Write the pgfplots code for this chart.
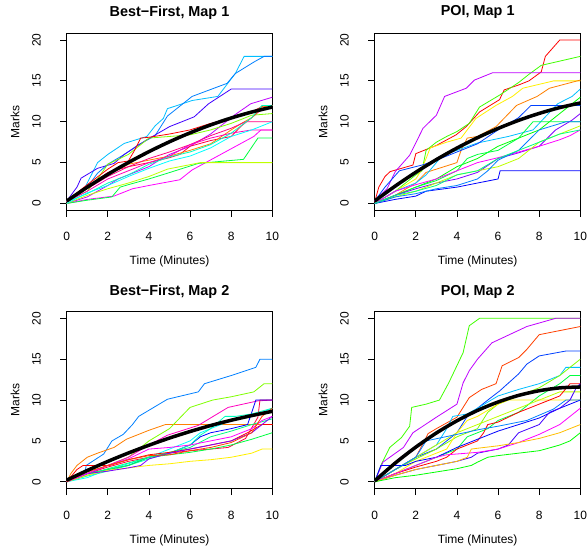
\documentclass[border=0pt]{standalone}
\usepackage{fontspec}
\setmainfont{Liberation Sans}
\usepackage{pgfplots}
\pgfplotsset{compat=1.18}
\definecolor{c0}{HTML}{FF0000}
\definecolor{c1}{HTML}{FF4000}
\definecolor{c2}{HTML}{FF8000}
\definecolor{c3}{HTML}{FFBF00}
\definecolor{c4}{HTML}{FFF000}
\definecolor{c5}{HTML}{BFFF00}
\definecolor{c6}{HTML}{80FF00}
\definecolor{c7}{HTML}{40FF00}
\definecolor{c8}{HTML}{00FF00}
\definecolor{c9}{HTML}{00FF40}
\definecolor{c10}{HTML}{00FF80}
\definecolor{c11}{HTML}{00FFBF}
\definecolor{c12}{HTML}{00FFFF}
\definecolor{c13}{HTML}{00BFFF}
\definecolor{c14}{HTML}{0080FF}
\definecolor{c15}{HTML}{0040FF}
\definecolor{c16}{HTML}{0000FF}
\definecolor{c17}{HTML}{4000FF}
\definecolor{c18}{HTML}{8000FF}
\definecolor{c19}{HTML}{BF00FF}
\definecolor{c20}{HTML}{FF00FF}
\definecolor{c21}{HTML}{FF00BF}
\definecolor{c22}{HTML}{FF0080}
\definecolor{c23}{HTML}{FF0040}
\pgfplotsset{
  panel/.style={scale only axis, width=205.6pt, height=176.5pt,
    xmin=0, xmax=10, ymin=-0.8, ymax=20.8,
    xtick={0,2,4,6,8,10}, ytick={0,5,10,15,20},
    tick align=outside, xtick pos=bottom, ytick pos=left,
    major tick length=6.7pt,
    every tick/.style={black, line width=0.8pt},
    axis line style={line width=0.9pt},
    tick label style={font=\fontsize{12}{14}\selectfont},
    /pgf/number format/assume math mode=true,
    xticklabel style={anchor=center, yshift=-20pt},
    yticklabel style={xshift=-23.4pt, rotate=90, anchor=center},
    anchor=south west, clip=true},
  ln/.style={line width=0.8pt, mark=none},
  fit/.style={line width=3.5pt, black, smooth, mark=none},
}
\begin{document}
\begin{tikzpicture}[x=1pt,y=1pt]
\clip (0,0) rectangle (587,550);
\fill[white] (0,0) rectangle (587,550);
% ---------------- Best-First, Map 1
\begin{axis}[panel, at={(66.7pt,340pt)}]
\addplot[ln,c13] coordinates {(0,0.2)(0.8,1.5)(1.5,5)(2,6)(2.8,7.35)(3.9,8.2)(4.3,9.5)(4.7,10.4)(4.9,11.6)(6.1,12.6)(7.35,13.1)(8.2,15.9)(8.63,18)(10,18)};
\addplot[ln,c14] coordinates {(0,0.3)(1,2)(1.5,3.7)(2,4.8)(2.8,6)(3.5,7.2)(4.3,8.3)(4.9,10.7)(6.1,13.1)(7.8,14.7)(8.2,15.9)(9.1,17.3)(9.6,18)(10,18)};
\addplot[ln,c17] coordinates {(0,0.3)(0.5,2)(0.7,3.1)(1.5,4.3)(2.3,4.9)(2.8,6)(3.9,7.8)(5,9.4)(6.2,10.6)(6.9,12.2)(8,14)(10,14)};
\addplot[ln,c19] coordinates {(0,0)(1,0.8)(2,2.2)(2.5,3)(3,3.5)(4,4.5)(4.5,5.3)(5,6)(6,7)(7,8.5)(8.15,10.8)(8.95,12.2)(10,13)};
\addplot[ln,c6] coordinates {(0,0.3)(1,1.5)(1.5,3)(2,4.8)(3,6)(4,8)(5,8.2)(6,8.4)(7,9)(8,9.8)(9,10.8)(10,11)};
\addplot[ln,c0] coordinates {(0,0.3)(1,2.3)(2,4.2)(2.5,5)(3,5.2)(3.3,6.5)(3.6,8)(4,8.1)(5,8.5)(6,9)(7,9.8)(8,10.4)(9,11.2)(9.6,12)(10,12)};
\addplot[ln,c23] coordinates {(0,0.2)(1,2)(2,3.8)(3,4.5)(4,5)(5,5.6)(5.5,6)(6,7)(7,7.7)(8,8.2)(8.5,9.5)(9,10.5)(9.7,12)(10,12)};
\addplot[ln,c2] coordinates {(0,0.2)(1,2)(2,3.5)(3,4.8)(4,5.3)(5,5.8)(6,6.5)(7,7.3)(8,9)(8.5,9.8)(9,10.5)(9.5,11.8)(10,12)};
\addplot[ln,c22] coordinates {(0,0.2)(1,1.8)(2,3.3)(3,4.5)(4,5.5)(5,6.3)(6,7.2)(7,8.3)(8,9.2)(8.7,10)(10,10)};
\addplot[ln,c20] coordinates {(0,0)(1,0.5)(2.3,0.9)(3.2,1.8)(4,2.2)(5.5,2.9)(6.1,4.1)(8.15,6.9)(9.1,8.2)(9.45,9)(10,9)};
\addplot[ln,c21] coordinates {(0,0.2)(1,1.5)(2,3)(3,4)(4,5)(5,5.8)(6,7.2)(7,8)(8,8.6)(9,9)(10,9)};
\addplot[ln,c9] coordinates {(0,0)(1,0.4)(2.2,0.8)(2.6,2)(3,2.3)(4,3)(4.9,3.7)(6.4,4.9)(8.6,5.4)(9.3,8)(10,8)};
\addplot[ln,c5] coordinates {(0,0)(1,1)(2,1.8)(3,2.5)(4,3.3)(4.9,4.2)(6.5,5)(10,5)};
\addplot[ln,c11] coordinates {(0,0.2)(1,1.2)(2,2.5)(3,3.5)(4,4.8)(5,5.7)(6,6.3)(7,7.2)(8,8.6)(9,10.5)(9.5,12)(10,12)};
\addplot[ln,c12] coordinates {(0,0)(1,1.3)(2,2.2)(3,3.3)(4,4.3)(5,5.2)(6,5.8)(7,6.8)(8,8.2)(9,9)(10,10)};
\addplot[fit] coordinates {(0,0.30)(1,1.99)(2,3.56)(3,5.01)(4,6.34)(5,7.55)(6,8.64)(7,9.61)(8,10.46)(9,11.19)(10,11.80)};
\end{axis}
% ---------------- POI, Map 1
\begin{axis}[panel, at={(374.7pt,340pt)}]
\addplot[ln,c0] coordinates {(0,0.2)(0.2,2)(0.5,3.3)(0.75,3.9)(1.86,4.7)(2,6.1)(2.5,6.6)(3,7.1)(3.96,8.4)(4.45,9.4)(5.1,11.2)(6.07,12.7)(6.3,13.9)(7,14.5)(7.5,15)(8.1,16.1)(8.3,18)(9,20)(10,20)};
\addplot[ln,c7] coordinates {(0,0)(1,1.5)(2,3.5)(2.3,4)(2.5,6.5)(3,7.5)(3.5,8.2)(4,8.8)(4.6,9.8)(5.1,11.8)(6.1,13.3)(7,14.8)(7.5,15.8)(8.1,16.9)(10,18)};
\addplot[ln,c19] coordinates {(0,0.3)(0.6,1.8)(1.0,3.9)(1.7,5.9)(2.35,9.2)(3,10.8)(3.4,13.1)(4.45,14.1)(4.85,15.1)(5.74,16)(10,16)};
\addplot[ln,c4] coordinates {(0,0)(1,1.5)(2,3)(2.2,3.8)(2.5,5.5)(2.7,6.8)(3.5,7.5)(4.2,8)(4.92,10.4)(5.9,12)(6.7,13.1)(7.2,14.1)(8.7,15)(10,15)};
\addplot[ln,c2] coordinates {(0,0)(1,1)(2,2.5)(2.5,3.8)(3,4.2)(4,5)(4.2,6.5)(4.5,8)(5,8.2)(5.9,9.4)(6.9,12)(7.9,13.1)(8.5,14.1)(10,15.1)};
\addplot[ln,c13] coordinates {(0,0)(1,1.5)(2,2.5)(2.5,3.5)(3.3,5.9)(4,6.5)(5,7.4)(6.5,8.2)(7.7,9)(8.9,12.2)(9.6,13.1)(10,14)};
\addplot[ln,c15] coordinates {(0,0.3)(0.5,2)(1.2,4)(2.3,4.7)(3,5.3)(4,6.3)(5,7.3)(6,9)(7,10.5)(7.6,12)(10,12)};
\addplot[ln,c8] coordinates {(0,0)(1,1)(2,2)(3,3)(4,4.5)(5,5.5)(6,7)(7,8)(8,9)(9,11)(9.5,12)(10,13)};
\addplot[ln,c9] coordinates {(0,0)(1,1)(2,2)(3,2.8)(4,4)(4.5,5.5)(5,6)(6,6.5)(7,8)(7.7,10)(10,10)};
\addplot[ln,c18] coordinates {(0,0)(1,1)(2,1.8)(3,2.5)(4,3)(5,3.8)(6,5.5)(7,6.2)(8,7)(8.8,9)(9.6,10.2)(10,11)};
\addplot[ln,c20] coordinates {(0,0)(1,1.5)(2,2.3)(3,3)(4,4)(5,5)(6,5.6)(7,6.3)(8,7)(9,7.8)(9.5,8.3)(10,9)};
\addplot[ln,c5] coordinates {(0,0)(1,0.8)(2,1.5)(3,2.5)(4,3.5)(5,4)(6,4.5)(7,5.5)(8,7.5)(9,8.5)(10,9.5)};
\addplot[ln,c16] coordinates {(0,0)(1,0.5)(2,0.9)(2.5,1.5)(4,2)(5,2.5)(6,3)(6.1,4)(10,4)};
\addplot[ln,c14] coordinates {(0,0)(1,0.8)(2,1.2)(3,1.8)(4,2.2)(5,3)(5.5,4)(6,5.3)(7,6.5)(8,9)(9.3,10)(10,10)};
\addplot[ln,c10] coordinates {(0,0)(1,1)(2,1.5)(3,2.2)(4,3.5)(5,4)(6,5.5)(7,6.5)(8,7.5)(9,8.5)(10,9)};
\addplot[fit] coordinates {(0,0.30)(1,2.13)(2,3.82)(3,5.37)(4,6.78)(5,8.05)(6,9.18)(7,10.17)(8,11.02)(9,11.73)(10,12.30)};
\end{axis}
% ---------------- Best-First, Map 2
\begin{axis}[panel, at={(66.7pt,61.7pt)}]
\addplot[ln,c14] coordinates {(0,0)(0.9,1.3)(0.95,2)(1.8,3.4)(2.2,5)(2.75,5.8)(3.2,7)(3.5,8)(4.9,10.1)(6.4,11)(6.7,12)(8,13)(9.2,14)(9.4,15)(10,15)};
\addplot[ln,c2] coordinates {(0,0)(0.2,1)(0.5,2)(1,3)(1.5,3.5)(2.3,4.2)(2.9,5.2)(3.5,5.8)(4,6.3)(4.8,7)(10,7)};
\addplot[ln,c6] coordinates {(0,0)(1,1)(2,2)(3,3)(3.5,4)(4,5)(5,6.5)(6,9.1)(7.1,10)(8,10.4)(9.1,11)(9.6,12)(10,12)};
\addplot[ln,c21] coordinates {(0,0)(1,1)(2,2)(3,3)(4,4.5)(4.9,5.7)(6.4,6.9)(7.85,9.1)(9.3,9.9)(10,10)};
\addplot[ln,c23] coordinates {(0,0)(1,1)(2,1.8)(3,2.5)(4,3)(5,3.5)(6,3.8)(7,4)(7.85,4.2)(8.7,5.3)(9.3,7.9)(9.4,10)(10,10)};
\addplot[ln,c16] coordinates {(0,0)(1,1)(2,1.5)(3,2)(4,3)(5,3.5)(6,4.5)(6.5,5.5)(7,6)(8,6.5)(8.8,7)(9.2,10)(10,10)};
\addplot[ln,c12] coordinates {(0,0)(1,0.5)(2,1.5)(3,2.2)(4,3)(5,4)(6,5)(6.5,6)(7,6.5)(8,7.5)(9,8)(9.5,8.5)(10,9)};
\addplot[ln,c11] coordinates {(0,0)(1,0.7)(2,1.3)(3,2)(4,2.8)(5,3.5)(6,4.5)(6.5,5.7)(7,6.5)(7.7,8)(8.2,8)(9,8.3)(10,9)};
\addplot[ln,c9] coordinates {(0,0)(1,1)(2,1.5)(3,2)(4,3)(5,3.3)(6,3.6)(7,4)(8,4.5)(9,5.2)(10,6)};
\addplot[ln,c10] coordinates {(0,0)(1,0.8)(2,1.6)(3,2.3)(4,3)(5,3.6)(6,4.2)(7,5.5)(8,6.2)(9,7)(10,7.7)};
\addplot[ln,c4] coordinates {(0,0)(1,0.8)(2,1.4)(3,1.7)(4,2)(5,2.2)(6,2.5)(7,2.7)(8,3)(9,3.5)(9.5,4)(10,4)};
\addplot[ln,c0] coordinates {(0,0)(0.5,1.5)(0.8,2)(2.1,2)(3,2.7)(4,3.3)(5,3.6)(6,4)(7,4.5)(8,5)(8.8,6)(9.5,7)(10,7)};
\addplot[ln,c18] coordinates {(0,0)(1,1)(2,1.3)(3,1.7)(3.6,2)(4,2.8)(5,3.5)(6,4)(7,4.5)(8,5)(9,6)(9.5,7)(10,8)};
\addplot[ln,c20] coordinates {(0,0)(1,1)(2,2)(3,2.8)(4,4)(5,4.2)(6,4.5)(7,5)(8,5.5)(9,6.5)(9.5,7.5)(10,8)};
\addplot[ln,c1] coordinates {(0,0)(1,1.2)(2,2)(3,2.7)(4,3.2)(5,3.3)(6,3.8)(7,4.2)(8,4.8)(9,6)(9.5,8)(10,9)};
\addplot[fit] coordinates {(0,0.20)(1,1.38)(2,2.49)(3,3.52)(4,4.47)(5,5.35)(6,6.15)(7,6.88)(8,7.53)(9,8.10)(10,8.62)};
\end{axis}
% ---------------- POI, Map 2
\begin{axis}[panel, at={(374.7pt,61.7pt)}]
\addplot[ln,c7] coordinates {(0,0)(0.3,2)(0.73,4.2)(1.3,5.4)(1.7,6.8)(1.8,9.1)(2.5,9.5)(3.15,10)(3.6,12.1)(3.96,14)(4.3,15.8)(4.6,19.1)(5.1,20)(10,20)};
\addplot[ln,c19] coordinates {(0,0)(0.4,2.4)(1.4,4.2)(1.86,6)(3,7.9)(4,9.5)(4.3,12.1)(4.6,13.6)(5,15)(5.7,17)(7.4,19)(8.8,20)(10,20)};
\addplot[ln,c1] coordinates {(0,0)(1,1.5)(2,3)(2.6,5.9)(3,6.5)(4,7.9)(4.6,10.3)(5.2,11.3)(5.9,12)(6.2,14.2)(7,15.2)(7.4,16.2)(8,18)(10,19)};
\addplot[ln,c15] coordinates {(0,0)(1,1.5)(2,3)(3,4)(4,6)(4.5,8)(5,9)(5.5,10)(6.07,11.1)(7,13.2)(7.4,14.4)(8,15.4)(9.3,16)(10,16)};
\addplot[ln,c13] coordinates {(0,0)(1,1.5)(2,3)(3,4.5)(3.5,6.5)(3.8,8)(4.5,8.3)(5,9)(6,10.5)(7,11.3)(8,12)(9,13)(9.3,14)(10,14)};
\addplot[ln,c9] coordinates {(0,0)(1,1)(2,2)(3,3)(4,4)(4.5,5.5)(5,6)(5.5,6.5)(6,7.5)(7,8.5)(8,10.5)(9,12)(9.5,13)(10,13)};
\addplot[ln,c6] coordinates {(0,0)(1,1.5)(2,2.8)(3,4)(4,5.5)(5,6.5)(5.5,8.5)(6,9.5)(7,10.5)(8,11.5)(9,13)(9.5,14)(10,15)};
\addplot[ln,c5] coordinates {(0,0)(1,1.5)(2,3)(3,4.5)(4,6)(5,7)(6,8)(7,9)(8,10)(8.5,10.5)(9,11)(10,11)};
\addplot[ln,c4] coordinates {(0,0)(1,1)(2,2.5)(3,3.5)(3.5,4)(4,6)(4.5,7.5)(5,8)(6,9.5)(6.5,10)(10,10)};
\addplot[ln,c0] coordinates {(0,0)(1,1)(2,1.8)(3,2.5)(3.5,3)(4,4)(4.5,4.5)(5,5)(5.3,6)(5.5,7)(6,7.3)(7,8.5)(8,9.5)(9,10.5)(9.5,12)(10,12)};
\addplot[ln,c16] coordinates {(0,0)(0.3,2)(1.5,2)(2,2.5)(3,3)(4,4.2)(5,5.2)(6,6.2)(7,7)(8,7.8)(9,9)(9.5,9.5)(10,10)};
\addplot[ln,c14] coordinates {(0,0)(1,1.5)(2,3)(2.5,5)(4,5.8)(5.1,6.4)(6,6.8)(7.4,7.5)(8.7,8.9)(9.3,10)(10,10)};
\addplot[ln,c17] coordinates {(0,0)(1,0.8)(2,1.5)(3,2)(4,2.5)(4.7,3)(5,3.5)(6,4)(6.5,4.5)(7,6)(7.5,6.5)(8,7)(8.5,8.5)(9,9)(9.5,10)(9.8,11.5)(10,12)};
\addplot[ln,c20] coordinates {(0,0)(1,1)(2,2)(3,3)(3.5,3.3)(4,3.4)(5,3.6)(6,4)(7,4.8)(8,5.8)(9,7)(9.5,8)(10,9)};
\addplot[ln,c3] coordinates {(0,0)(1,0.8)(2,1.5)(3,2)(4,2.5)(4.5,3)(4.7,4)(5,4.1)(6,4.4)(7,4.8)(8,5.3)(9,6)(9.5,6.5)(10,7)};
\addplot[ln,c8] coordinates {(0,0)(1,0.5)(2,0.8)(3,1.2)(4,1.6)(4.7,2)(5,2.4)(5.5,3)(6,3.2)(7,3.5)(8,3.8)(8.3,4)(9,4.5)(9.5,5)(10,6)};
\addplot[fit] coordinates {(0,0.10)(1,2.29)(2,4.24)(3,5.97)(4,7.46)(5,8.73)(6,9.76)(7,10.57)(8,11.14)(9,11.49)(10,11.60)};
\end{axis}
% ---------------- titles and labels
\node[font=\bfseries\fontsize{14.4}{16}\selectfont] at (169.5,537.7) {Best−First, Map 1};
\node[font=\bfseries\fontsize{14.4}{16}\selectfont] at (477.7,537.7) {POI, Map 1};
\node[font=\bfseries\fontsize{14.4}{16}\selectfont] at (169.5,258.3) {Best−First, Map 2};
\node[font=\bfseries\fontsize{14.4}{16}\selectfont] at (477.7,258.3) {POI, Map 2};
\node[font=\fontsize{12}{14}\selectfont] at (169.5,288.3) {Time (Minutes)};
\node[font=\fontsize{12}{14}\selectfont] at (477.7,288.3) {Time (Minutes)};
\node[font=\fontsize{12}{14}\selectfont] at (169.5,9.5) {Time (Minutes)};
\node[font=\fontsize{12}{14}\selectfont] at (477.7,9.5) {Time (Minutes)};
\node[font=\fontsize{12}{14}\selectfont, rotate=90] at (15,428.3) {Marks};
\node[font=\fontsize{12}{14}\selectfont, rotate=90] at (323,428.3) {Marks};
\node[font=\fontsize{12}{14}\selectfont, rotate=90] at (15,149.7) {Marks};
\node[font=\fontsize{12}{14}\selectfont, rotate=90] at (323,149.7) {Marks};
\end{tikzpicture}
\end{document}
